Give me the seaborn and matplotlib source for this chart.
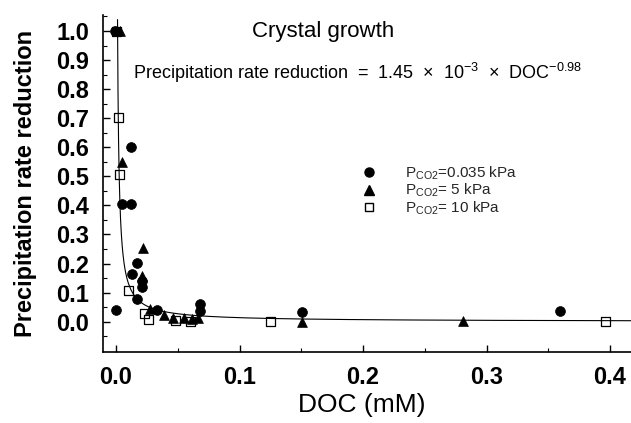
import numpy as np
import pandas as pd
import matplotlib
matplotlib.use("Agg")
import matplotlib.pyplot as plt
from matplotlib.lines import Line2D
import seaborn as sns

# ---- data ----
circ_doc = [-0.0005, 0.0046, 0.0119, 0.0119, 0.0168, 0.0127, 0.0208, 0.0208, 0.0168,
            0.0000, 0.0330, 0.0680, 0.0680, 0.1510, 0.3595]
circ_red = [1.00, 0.405, 0.405, 0.602, 0.203, 0.163, 0.141, 0.120, 0.078,
            0.040, 0.040, 0.061, 0.037, 0.034, 0.037]

tri_doc = [0.0030, 0.0046, 0.0221, 0.0208, 0.0275, 0.0389, 0.0464, 0.0553, 0.0613,
           0.0661, 0.1510, 0.2807]
tri_red = [1.00, 0.549, 0.253, 0.157, 0.043, 0.023, 0.012, 0.012, 0.010,
           0.012, 0.000, 0.002]

sq_doc = [0.0000, 0.0024, 0.0032, 0.0100, 0.0229, 0.0267, 0.0478, 0.0607, 0.1247, 0.3960]
sq_red = [1.00, 0.704, 0.508, 0.109, 0.029, 0.008, 0.003, 0.002, 0.000, 0.002]

fit_coef = 1.45e-3
fit_exp = -0.98

labels = ["P$_{\\mathrm{CO2}}$=0.035 kPa", "P$_{\\mathrm{CO2}}$= 5 kPa", "P$_{\\mathrm{CO2}}$= 10 kPa"]
xticks = [0.0, 0.1, 0.2, 0.3, 0.4]
yticks = [0.0, 0.1, 0.2, 0.3, 0.4, 0.5, 0.6, 0.7, 0.8, 0.9, 1.0]

sns.set_theme(style="white")
plt.rcParams['font.family'] = ['Liberation Sans', 'DejaVu Sans']
plt.rcParams['mathtext.fontset'] = 'custom'
plt.rcParams['mathtext.rm'] = 'Liberation Sans'
plt.rcParams['mathtext.it'] = 'Liberation Sans:italic'
plt.rcParams['mathtext.bf'] = 'Liberation Sans:bold'

fig = plt.figure(figsize=(6.31, 4.23), dpi=100)
ax = fig.add_axes([0.1637, 0.168, 1.0 - 0.1637, 0.9645 - 0.168])

# fit curve
xs = np.concatenate([np.linspace(0.00122, 0.01, 200), np.linspace(0.01, 0.42, 200)])
ys = fit_coef * xs ** fit_exp
sns.lineplot(x=xs, y=ys, ax=ax, color="black", lw=0.8, sort=False, estimator=None)

df_c = pd.DataFrame({"doc": circ_doc, "red": circ_red})
df_t = pd.DataFrame({"doc": tri_doc, "red": tri_red})
df_s = pd.DataFrame({"doc": sq_doc, "red": sq_red})
sns.scatterplot(data=df_c, x="doc", y="red", ax=ax, marker="o", s=50,
                color="black", edgecolor="black", linewidth=0.5, zorder=3)
sns.scatterplot(data=df_t, x="doc", y="red", ax=ax, marker="^", s=50,
                color="black", edgecolor="black", linewidth=0.5, zorder=3)
sns.scatterplot(data=df_s, x="doc", y="red", ax=ax, marker="s", s=42,
                facecolor="none", edgecolor="black", linewidth=0.9, zorder=4)

ax.set_xlim(-0.0103, 0.417)
ax.set_ylim(-0.104, 1.055)
ax.set_xticks(xticks)
ax.set_xticklabels([f"{t:.1f}" for t in xticks], fontweight="bold")
ax.set_yticks(yticks)
ax.set_yticklabels([f"{t:.1f}" for t in yticks], fontweight="bold")
ax.set_xticks(np.arange(0.05, 0.41, 0.1), minor=True)
ax.set_yticks(np.arange(-0.05, 1.06, 0.1), minor=True)
ax.tick_params(axis="both", which="major", direction="in", length=5, width=1,
               labelsize=17, color="black", labelcolor="black")
ax.tick_params(axis="both", which="minor", direction="in", length=3, width=0.8,
               color="black")
ax.tick_params(axis="y", which="major", pad=10)
ax.tick_params(axis="x", which="major", pad=10)
ax.tick_params(axis="both", which="both", bottom=True, left=True)

for side in ["top", "right"]:
    ax.spines[side].set_visible(False)
for side in ["left", "bottom"]:
    ax.spines[side].set_color("black")
    ax.spines[side].set_linewidth(1.2)

ax.set_xlabel("DOC (mM)", fontsize=19, color="black")
ax.xaxis.set_label_coords(0.49, -0.123)
ax.set_ylabel("Precipitation rate reduction", fontsize=17, fontweight="bold",
              color="black", labelpad=14)

fig.text(323 / 631, 1 - 31 / 423, "Crystal growth", fontsize=16, ha="center",
         va="center", color="black")
fig.text(132.7 / 631, 1 - 73 / 423,
         "Precipitation rate reduction  =  1.45  \u00d7  10$^{\\mathregular{-3}}$  \u00d7  DOC$^{\\mathregular{-0.98}}$",
         fontsize=13, ha="left", va="center", color="black")

handles = [
    Line2D([], [], marker="o", ls="none", color="black", markersize=6.5),
    Line2D([], [], marker="^", ls="none", color="black", markersize=6.5),
    Line2D([], [], marker="s", ls="none", markerfacecolor="none",
           markeredgecolor="black", markersize=6),
]
ax.legend(handles, labels, loc="upper left", bbox_to_anchor=(0.471, 0.58),
          frameon=False, fontsize=11, handlelength=1.2, handletextpad=1.8,
          borderpad=0, labelspacing=0.02)

fig.savefig("out.png", dpi=100)
